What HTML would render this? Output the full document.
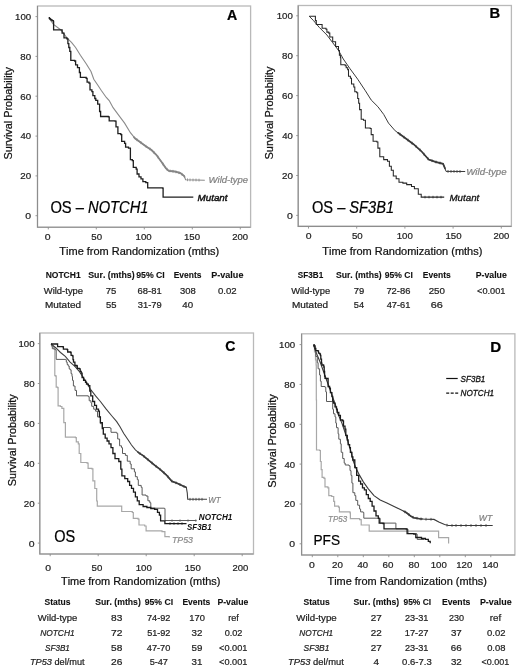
<!DOCTYPE html><html><head><meta charset="utf-8"><style>html,body{margin:0;padding:0;background:#fff;overflow:hidden;width:520px;height:670px;}svg{display:block;filter:grayscale(100%);}text{font-family:"Liberation Sans",sans-serif;font-kerning:none;}</style></head><body>
<svg width="520" height="670" viewBox="0 0 520 670">
<rect width="520" height="670" fill="#fff"/>
<rect x="37.5" y="6" width="213.1" height="221.2" fill="none" stroke="#b9b9b9" stroke-width="1.3"/>
<path d="M37.5,6V227.2H250.6" fill="none" stroke="#8d8d8d" stroke-width="1.1"/>
<path d="M35.5,215.7H37.5M35.5,175.9H37.5M35.5,136.1H37.5M35.5,96.2H37.5M35.5,56.4H37.5M35.5,16.6H37.5M48.3,227.2V229.4M96.3,227.2V229.4M144.3,227.2V229.4M192.3,227.2V229.4M240.3,227.2V229.4" stroke="#8d8d8d" stroke-width="0.9" fill="none"/>
<text x="25.39" y="219.10" font-size="9.6" fill="#222" textLength="5.82" lengthAdjust="spacingAndGlyphs" stroke="#222" stroke-width="0.22">0</text>
<text x="20.31" y="179.28" font-size="9.6" fill="#222" textLength="10.87" lengthAdjust="spacingAndGlyphs" stroke="#222" stroke-width="0.22">20</text>
<text x="20.58" y="139.46" font-size="9.6" fill="#222" textLength="10.59" lengthAdjust="spacingAndGlyphs" stroke="#222" stroke-width="0.22">40</text>
<text x="20.30" y="99.64" font-size="9.6" fill="#222" textLength="10.88" lengthAdjust="spacingAndGlyphs" stroke="#222" stroke-width="0.22">60</text>
<text x="20.38" y="59.82" font-size="9.6" fill="#222" textLength="10.80" lengthAdjust="spacingAndGlyphs" stroke="#222" stroke-width="0.22">80</text>
<text x="15.06" y="20.00" font-size="9.6" fill="#222" textLength="16.11" lengthAdjust="spacingAndGlyphs" stroke="#222" stroke-width="0.22">100</text>
<text x="227.05" y="19.50" font-size="14" fill="#000" textLength="10.23" lengthAdjust="spacingAndGlyphs" stroke="#000" stroke-width="0.22"><tspan font-weight="bold">A</tspan></text>
<text x="44.79" y="240.20" font-size="9.6" fill="#222" textLength="5.82" lengthAdjust="spacingAndGlyphs" stroke="#222" stroke-width="0.22">0</text>
<text x="91.31" y="240.20" font-size="9.6" fill="#222" textLength="10.77" lengthAdjust="spacingAndGlyphs" stroke="#222" stroke-width="0.22">50</text>
<text x="135.56" y="240.20" font-size="9.6" fill="#222" textLength="16.11" lengthAdjust="spacingAndGlyphs" stroke="#222" stroke-width="0.22">100</text>
<text x="183.96" y="240.20" font-size="9.6" fill="#222" textLength="16.11" lengthAdjust="spacingAndGlyphs" stroke="#222" stroke-width="0.22">150</text>
<text x="232.22" y="240.20" font-size="9.6" fill="#222" textLength="15.85" lengthAdjust="spacingAndGlyphs" stroke="#222" stroke-width="0.22">200</text>
<text x="59.35" y="255.40" font-size="10.4" fill="#111" textLength="159.83" lengthAdjust="spacingAndGlyphs" stroke="#111" stroke-width="0.22">Time from Randomization (mths)</text>
<text transform="rotate(-90)" x="-159.49" y="11.50" font-size="10.2" fill="#111" textLength="92.52" lengthAdjust="spacingAndGlyphs" stroke="#111" stroke-width="0.22">Survival Probability</text>
<text x="50.40" y="212.70" font-size="16.2" fill="#000" textLength="98.14" lengthAdjust="spacingAndGlyphs" stroke="#000" stroke-width="0.22">OS – <tspan font-style="italic">NOTCH1</tspan></text>
<path d="M48.7,17.7L53.5,24.4L61.2,30.2L66.9,37.9L71.7,42.7L75.6,47.5L80.4,55.2L86.2,63.8L91.0,71.5L93.8,79.2L97.7,85.0L101.5,90.8L106.3,97.5L109.2,100.5L113.1,107.7L118.8,115.4L124.6,123.1L130.4,132.7L135.2,138.5L139.0,141.3L145.8,146.2L151.5,150.0L156.3,154.8L161.2,161.5L166.0,168.3L168.8,170.8L174.6,171.5L180.4,173.1L184.2,176.0L185.6,179.8L204.8,180.2" fill="none" stroke="#8a8a8a" stroke-width="1.1" stroke-linejoin="miter"/>
<path d="M134.0,137.1L135.2,138.5L139.0,141.3L145.8,146.2L151.5,150.0L156.3,154.8L161.2,161.5L166.0,168.3L168.8,170.8L174.6,171.5L180.4,173.1L184.2,176.0L184.5,176.8" fill="none" stroke="#858585" stroke-width="1.8" stroke-linejoin="miter" stroke-linecap="round" stroke-linejoin="round"/>
<path d="M137.0,138.4V141.2M141.0,141.3V144.1M146.0,144.9V147.7M150.0,147.6V150.4M154.0,151.1V153.9M158.0,155.7V158.5M163.0,162.7V165.5M167.0,167.8V170.6M170.0,169.5V172.3M173.0,169.9V172.7M176.0,170.5V173.3M179.0,171.3V174.1M182.0,172.9V175.7M187.5,178.4V181.2M190.0,178.5V181.3M193.0,178.6V181.4M196.0,178.6V181.4M199.0,178.7V181.5" fill="none" stroke="#858585" stroke-width="0.8"/>
<path d="M48.7,17.7H49.5V18.6H50.3V19.3H51.2V20.0H52.1V20.7H53.3V21.4H53.6V29.8H60.8V29.8H62.1V33.1H64.0V37.9H66.9V38.8H67.9V43.7H68.8V47.5H69.8V51.3H70.8V60.4H74.6V61.0H75.6V64.8H77.5V67.7H79.4V72.5H80.4V77.3H86.2V78.3H87.1V82.1H89.0V83.1H90.0V89.8H91.9V91.7H92.9V95.6H94.8V98.5H95.8V100.4H97.7V104.2H99.6V111.5H100.6V116.5H108.3V116.9H109.2V120.8H115.0V121.2H116.0V126.9H117.9V133.7H120.8V134.6H121.7V141.3H124.6V143.3H125.6V147.1H128.5V148.1H130.4V159.6H132.3V160.6H133.3V167.3H136.2V169.2H137.1V174.0H139.0V176.9H141.0V178.8H142.9V181.7H145.8V182.7H147.7V187.8H162.6V188.1H163.1V197.1H193.3V197.1" fill="none" stroke="#1e1e1e" stroke-width="1.3" stroke-linejoin="miter"/>
<text x="208.58" y="182.50" font-size="9.4" fill="#808080" textLength="39.57" lengthAdjust="spacingAndGlyphs" stroke="#808080" stroke-width="0.22"><tspan font-style="italic">Wild-type</tspan></text>
<text x="197.60" y="200.90" font-size="9.6" fill="#111" textLength="29.96" lengthAdjust="spacingAndGlyphs" stroke="#111" stroke-width="0.45"><tspan font-style="italic">Mutant</tspan></text>
<rect x="298.2" y="5.5" width="213.2" height="220.9" fill="none" stroke="#b9b9b9" stroke-width="1.3"/>
<path d="M298.2,5.5V226.4H511.4" fill="none" stroke="#8d8d8d" stroke-width="1.1"/>
<path d="M296.2,215.4H298.2M296.2,175.5H298.2M296.2,135.6H298.2M296.2,95.6H298.2M296.2,55.7H298.2M296.2,15.8H298.2M308.5,226.4V228.6M356.7,226.4V228.6M404.9,226.4V228.6M453.1,226.4V228.6M501.3,226.4V228.6" stroke="#8d8d8d" stroke-width="0.9" fill="none"/>
<text x="287.09" y="218.80" font-size="9.6" fill="#222" textLength="5.82" lengthAdjust="spacingAndGlyphs" stroke="#222" stroke-width="0.22">0</text>
<text x="282.01" y="178.88" font-size="9.6" fill="#222" textLength="10.87" lengthAdjust="spacingAndGlyphs" stroke="#222" stroke-width="0.22">20</text>
<text x="282.28" y="138.96" font-size="9.6" fill="#222" textLength="10.59" lengthAdjust="spacingAndGlyphs" stroke="#222" stroke-width="0.22">40</text>
<text x="282.00" y="99.04" font-size="9.6" fill="#222" textLength="10.88" lengthAdjust="spacingAndGlyphs" stroke="#222" stroke-width="0.22">60</text>
<text x="282.08" y="59.12" font-size="9.6" fill="#222" textLength="10.80" lengthAdjust="spacingAndGlyphs" stroke="#222" stroke-width="0.22">80</text>
<text x="276.76" y="19.20" font-size="9.6" fill="#222" textLength="16.11" lengthAdjust="spacingAndGlyphs" stroke="#222" stroke-width="0.22">100</text>
<text x="489.61" y="18.40" font-size="14" fill="#000" textLength="10.66" lengthAdjust="spacingAndGlyphs" stroke="#000" stroke-width="0.22"><tspan font-weight="bold">B</tspan></text>
<text x="305.69" y="238.70" font-size="9.6" fill="#222" textLength="5.82" lengthAdjust="spacingAndGlyphs" stroke="#222" stroke-width="0.22">0</text>
<text x="351.91" y="238.70" font-size="9.6" fill="#222" textLength="10.77" lengthAdjust="spacingAndGlyphs" stroke="#222" stroke-width="0.22">50</text>
<text x="396.76" y="238.70" font-size="9.6" fill="#222" textLength="16.11" lengthAdjust="spacingAndGlyphs" stroke="#222" stroke-width="0.22">100</text>
<text x="445.46" y="238.70" font-size="9.6" fill="#222" textLength="16.11" lengthAdjust="spacingAndGlyphs" stroke="#222" stroke-width="0.22">150</text>
<text x="493.52" y="238.70" font-size="9.6" fill="#222" textLength="15.85" lengthAdjust="spacingAndGlyphs" stroke="#222" stroke-width="0.22">200</text>
<text x="322.25" y="255.00" font-size="10.4" fill="#111" textLength="160.13" lengthAdjust="spacingAndGlyphs" stroke="#111" stroke-width="0.22">Time from Randomization (mths)</text>
<text transform="rotate(-90)" x="-159.50" y="272.60" font-size="10.2" fill="#111" textLength="93.02" lengthAdjust="spacingAndGlyphs" stroke="#111" stroke-width="0.22">Survival Probability</text>
<text x="312.01" y="213.20" font-size="16.2" fill="#000" textLength="82.03" lengthAdjust="spacingAndGlyphs" stroke="#000" stroke-width="0.22">OS – <tspan font-style="italic">SF3B1</tspan></text>
<path d="M309.2,16.2L313.5,20.6L319.2,27.3L326.9,35.0L332.7,42.7L338.5,50.4L343.3,59.0L350.0,68.7L357.7,79.2L365.4,90.8L371.2,100.0L377.9,106.7L383.7,114.4L388.5,123.1L395.2,130.8L400.0,134.2L405.8,138.5L413.5,144.2L421.2,151.0L428.7,159.6L435.4,161.9L443.1,163.8L445.0,168.3L446.0,171.4L465.2,171.5" fill="none" stroke="#3a3a3a" stroke-width="1.0" stroke-linejoin="miter"/>
<path d="M398.0,132.8L400.0,134.2L405.8,138.5L413.5,144.2L421.2,151.0L428.7,159.6L435.4,161.9L443.1,163.8L445.0,168.3" fill="none" stroke="#3a3a3a" stroke-width="1.7" stroke-linejoin="miter" stroke-linecap="round" stroke-linejoin="round"/>
<path d="M400.0,132.8V135.6M404.0,135.8V138.6M408.0,138.7V141.5M412.0,141.7V144.5M416.0,145.0V147.8M420.0,148.5V151.3M424.0,152.8V155.6M428.0,157.4V160.2M432.0,159.3V162.1M436.0,160.6V163.4M440.0,161.6V164.4M448.0,170.0V172.8M451.0,170.0V172.8M454.0,170.0V172.8M457.0,170.1V172.9M460.0,170.1V172.9" fill="none" stroke="#3a3a3a" stroke-width="0.8"/>
<path d="M309.2,16.2H313.8V16.2H315.4V20.6H316.3V24.4H321.2V24.4H322.1V28.3H326.0V29.2H326.9V32.1H328.8V33.1H329.8V36.9H332.7V41.7H335.6V46.5H338.5V50.4H339.4V55.2H340.4V57.7H340.8V64.8H345.2V65.8H346.2V67.7H347.7V69.6H348.5V76.3H350.4V78.3H351.5V84.0H353.8V86.9H354.8V91.7H356.7V92.7H357.7V98.5H358.7V103.3H359.6V109.6H361.2V119.2H363.5V120.2H365.4V127.9H370.2V128.5H371.2V134.6H373.1V141.3H376.9V141.9H377.9V148.1H379.8V156.7H383.7V159.6H387.5V161.2H389.4V166.3H391.3V170.2H393.3V176.0H396.2V178.8H399.0V182.3H402.9V183.1H406.7V184.6H411.5V186.5H414.4V188.8H418.3V194.2H421.2V197.1H444.2V197.1" fill="none" stroke="#262626" stroke-width="1.05" stroke-linejoin="miter"/>
<path d="M425.0,195.8V198.4M429.0,195.8V198.4M433.0,195.8V198.4M437.0,195.8V198.4M441.0,195.8V198.4" fill="none" stroke="#1e1e1e" stroke-width="0.7"/>
<text x="466.26" y="174.60" font-size="9.4" fill="#808080" textLength="40.29" lengthAdjust="spacingAndGlyphs" stroke="#808080" stroke-width="0.22"><tspan font-style="italic">Wild-type</tspan></text>
<text x="449.50" y="200.60" font-size="9.6" fill="#111" textLength="29.76" lengthAdjust="spacingAndGlyphs" stroke="#111" stroke-width="0.3"><tspan font-style="italic">Mutant</tspan></text>
<text x="45.63" y="278.30" font-size="8.8" fill="#111" textLength="35.01" lengthAdjust="spacingAndGlyphs" stroke="#111" stroke-width="0.1"><tspan font-weight="bold">NOTCH1</tspan></text>
<text x="88.25" y="278.30" font-size="8.8" fill="#111" textLength="46.39" lengthAdjust="spacingAndGlyphs" stroke="#111" stroke-width="0.1"><tspan font-weight="bold">Sur. (mths)</tspan></text>
<text x="136.20" y="278.30" font-size="8.8" fill="#111" textLength="28.59" lengthAdjust="spacingAndGlyphs" stroke="#111" stroke-width="0.1"><tspan font-weight="bold">95% CI</tspan></text>
<text x="173.73" y="278.30" font-size="8.8" fill="#111" textLength="27.71" lengthAdjust="spacingAndGlyphs" stroke="#111" stroke-width="0.1"><tspan font-weight="bold">Events</tspan></text>
<text x="211.30" y="278.30" font-size="8.8" fill="#111" textLength="32.11" lengthAdjust="spacingAndGlyphs" stroke="#111" stroke-width="0.1"><tspan font-weight="bold">P-value</tspan></text>
<text x="43.76" y="293.60" font-size="9.4" fill="#222" textLength="39.36" lengthAdjust="spacingAndGlyphs" stroke="#222" stroke-width="0.22">Wild-type</text>
<text x="105.81" y="293.60" font-size="9.4" fill="#222" textLength="10.59" lengthAdjust="spacingAndGlyphs" stroke="#222" stroke-width="0.22">75</text>
<text x="137.62" y="293.60" font-size="9.4" fill="#222" textLength="24.04" lengthAdjust="spacingAndGlyphs" stroke="#222" stroke-width="0.22">68-81</text>
<text x="179.94" y="293.60" font-size="9.4" fill="#222" textLength="15.77" lengthAdjust="spacingAndGlyphs" stroke="#222" stroke-width="0.22">308</text>
<text x="218.03" y="293.60" font-size="9.4" fill="#222" textLength="18.66" lengthAdjust="spacingAndGlyphs" stroke="#222" stroke-width="0.22">0.02</text>
<text x="44.98" y="308.30" font-size="9.4" fill="#222" textLength="36.06" lengthAdjust="spacingAndGlyphs" stroke="#222" stroke-width="0.22">Mutated</text>
<text x="105.92" y="308.30" font-size="9.4" fill="#222" textLength="10.47" lengthAdjust="spacingAndGlyphs" stroke="#222" stroke-width="0.22">55</text>
<text x="137.74" y="308.30" font-size="9.4" fill="#222" textLength="23.90" lengthAdjust="spacingAndGlyphs" stroke="#222" stroke-width="0.22">31-79</text>
<text x="182.38" y="308.30" font-size="9.4" fill="#222" textLength="10.80" lengthAdjust="spacingAndGlyphs" stroke="#222" stroke-width="0.22">40</text>
<text x="297.87" y="278.30" font-size="8.8" fill="#111" textLength="25.36" lengthAdjust="spacingAndGlyphs" stroke="#111" stroke-width="0.1"><tspan font-weight="bold">SF3B1</tspan></text>
<text x="335.95" y="278.30" font-size="8.8" fill="#111" textLength="45.68" lengthAdjust="spacingAndGlyphs" stroke="#111" stroke-width="0.1"><tspan font-weight="bold">Sur. (mths)</tspan></text>
<text x="384.80" y="278.30" font-size="8.8" fill="#111" textLength="28.07" lengthAdjust="spacingAndGlyphs" stroke="#111" stroke-width="0.1"><tspan font-weight="bold">95% CI</tspan></text>
<text x="422.83" y="278.30" font-size="8.8" fill="#111" textLength="27.92" lengthAdjust="spacingAndGlyphs" stroke="#111" stroke-width="0.1"><tspan font-weight="bold">Events</tspan></text>
<text x="475.72" y="278.30" font-size="8.8" fill="#111" textLength="31.08" lengthAdjust="spacingAndGlyphs" stroke="#111" stroke-width="0.1"><tspan font-weight="bold">P-value</tspan></text>
<text x="291.16" y="293.60" font-size="9.4" fill="#222" textLength="38.96" lengthAdjust="spacingAndGlyphs" stroke="#222" stroke-width="0.22">Wild-type</text>
<text x="353.71" y="293.60" font-size="9.4" fill="#222" textLength="10.53" lengthAdjust="spacingAndGlyphs" stroke="#222" stroke-width="0.22">79</text>
<text x="386.42" y="293.60" font-size="9.4" fill="#222" textLength="23.99" lengthAdjust="spacingAndGlyphs" stroke="#222" stroke-width="0.22">72-86</text>
<text x="428.71" y="293.60" font-size="9.4" fill="#222" textLength="16.27" lengthAdjust="spacingAndGlyphs" stroke="#222" stroke-width="0.22">250</text>
<text x="477.05" y="293.60" font-size="9.4" fill="#222" textLength="28.40" lengthAdjust="spacingAndGlyphs" stroke="#222" stroke-width="0.22">&lt;0.001</text>
<text x="291.98" y="308.30" font-size="9.4" fill="#222" textLength="36.06" lengthAdjust="spacingAndGlyphs" stroke="#222" stroke-width="0.22">Mutated</text>
<text x="353.83" y="308.30" font-size="9.4" fill="#222" textLength="10.24" lengthAdjust="spacingAndGlyphs" stroke="#222" stroke-width="0.22">54</text>
<text x="386.69" y="308.30" font-size="9.4" fill="#222" textLength="23.77" lengthAdjust="spacingAndGlyphs" stroke="#222" stroke-width="0.22">47-61</text>
<text x="430.65" y="308.30" font-size="9.4" fill="#222" textLength="12.13" lengthAdjust="spacingAndGlyphs" stroke="#222" stroke-width="0.22">66</text>
<rect x="39.8" y="333" width="213.7" height="221" fill="none" stroke="#b9b9b9" stroke-width="1.3"/>
<path d="M39.8,333V554H253.5" fill="none" stroke="#8d8d8d" stroke-width="1.1"/>
<path d="M37.8,543.1H39.8M37.8,503.2H39.8M37.8,463.3H39.8M37.8,423.4H39.8M37.8,383.5H39.8M37.8,343.6H39.8M50.2,554V556.2M98.2,554V556.2M146.2,554V556.2M194.2,554V556.2M242.2,554V556.2" stroke="#8d8d8d" stroke-width="0.9" fill="none"/>
<text x="28.79" y="546.50" font-size="9.6" fill="#222" textLength="5.82" lengthAdjust="spacingAndGlyphs" stroke="#222" stroke-width="0.22">0</text>
<text x="23.71" y="506.60" font-size="9.6" fill="#222" textLength="10.87" lengthAdjust="spacingAndGlyphs" stroke="#222" stroke-width="0.22">20</text>
<text x="23.98" y="466.70" font-size="9.6" fill="#222" textLength="10.59" lengthAdjust="spacingAndGlyphs" stroke="#222" stroke-width="0.22">40</text>
<text x="23.70" y="426.80" font-size="9.6" fill="#222" textLength="10.88" lengthAdjust="spacingAndGlyphs" stroke="#222" stroke-width="0.22">60</text>
<text x="23.78" y="386.90" font-size="9.6" fill="#222" textLength="10.80" lengthAdjust="spacingAndGlyphs" stroke="#222" stroke-width="0.22">80</text>
<text x="18.46" y="347.00" font-size="9.6" fill="#222" textLength="16.11" lengthAdjust="spacingAndGlyphs" stroke="#222" stroke-width="0.22">100</text>
<text x="225.22" y="350.60" font-size="14" fill="#000" textLength="10.16" lengthAdjust="spacingAndGlyphs" stroke="#000" stroke-width="0.22"><tspan font-weight="bold">C</tspan></text>
<text x="45.39" y="570.60" font-size="9.6" fill="#222" textLength="5.82" lengthAdjust="spacingAndGlyphs" stroke="#222" stroke-width="0.22">0</text>
<text x="91.51" y="570.60" font-size="9.6" fill="#222" textLength="10.77" lengthAdjust="spacingAndGlyphs" stroke="#222" stroke-width="0.22">50</text>
<text x="135.66" y="570.60" font-size="9.6" fill="#222" textLength="16.11" lengthAdjust="spacingAndGlyphs" stroke="#222" stroke-width="0.22">100</text>
<text x="184.66" y="570.60" font-size="9.6" fill="#222" textLength="16.11" lengthAdjust="spacingAndGlyphs" stroke="#222" stroke-width="0.22">150</text>
<text x="232.42" y="570.60" font-size="9.6" fill="#222" textLength="15.85" lengthAdjust="spacingAndGlyphs" stroke="#222" stroke-width="0.22">200</text>
<text x="60.95" y="585.30" font-size="10.4" fill="#111" textLength="159.53" lengthAdjust="spacingAndGlyphs" stroke="#111" stroke-width="0.22">Time from Randomization (mths)</text>
<text transform="rotate(-90)" x="-486.29" y="16.00" font-size="10.2" fill="#111" textLength="92.01" lengthAdjust="spacingAndGlyphs" stroke="#111" stroke-width="0.22">Survival Probability</text>
<text x="54.31" y="541.90" font-size="16" fill="#000" textLength="20.95" lengthAdjust="spacingAndGlyphs" stroke="#000" stroke-width="0.22">OS</text>
<path d="M51.0,344.0H51.6V344.9H52.3V345.9H53.0V347.0H53.7V348.0H54.4V349.0H54.8V375.6H55.7V376.1H56.2V387.1H57.6V387.6H58.1V405.8H60.4V406.5H61.9V408.3H63.8V422.7H65.4V437.1H75.4V437.7H76.3V441.9H78.3V443.8H79.2V453.5H80.8V462.5H87.1V463.1H88.1V468.3H91.9V468.8H92.9V480.8H94.8V488.5H96.7V501.0H97.3V506.2H120.8V506.2H121.7V511.5H132.3V512.5H133.3V518.3H138.1V519.2H139.0V525.0H144.7V526.0H146.1V530.9H162.0V531.7H164.9V536.6H169.2V537.5" fill="none" stroke="#a8a8a8" stroke-width="1.2" stroke-linejoin="miter"/>
<path d="M51.0,344.0L55.7,347.7L60.5,352.5L65.3,356.3L70.1,362.1L74.9,366.4L78.8,370.8L82.6,376.5L86.5,382.3L90.3,389.0L95.6,395.8L100.4,401.5L106.2,409.2L111.9,416.0L116.7,421.7L120.0,426.7L123.8,433.5L127.7,439.2L131.5,445.0L135.4,449.8L139.2,453.1L143.1,455.6L148.8,460.4L154.6,465.2L160.4,469.6L166.2,474.8L171.9,481.2L177.7,483.5L183.5,486.3L186.3,487.3L187.3,493.1L187.7,499.3L207.0,499.3" fill="none" stroke="#404040" stroke-width="1.1" stroke-linejoin="miter"/>
<path d="M138.0,452.1L139.2,453.1L143.1,455.6L148.8,460.4L154.6,465.2L160.4,469.6L166.2,474.8L171.9,481.2L177.7,483.5L183.5,486.3L186.0,487.2" fill="none" stroke="#3c3c3c" stroke-width="1.7" stroke-linejoin="miter" stroke-linecap="round" stroke-linejoin="round"/>
<path d="M140.0,452.2V455.0M144.0,455.0V457.8M148.0,458.3V461.1M152.0,461.6V464.4M156.0,464.9V467.7M160.0,467.9V470.7M164.0,471.4V474.2M168.0,475.4V478.2M172.0,479.8V482.6M176.0,481.4V484.2M180.0,483.2V486.0M184.0,485.1V487.9M190.0,497.9V500.7M193.0,497.9V500.7M196.0,497.9V500.7M199.0,497.9V500.7M202.0,497.9V500.7" fill="none" stroke="#3c3c3c" stroke-width="0.8"/>
<path d="M51.0,344.0H51.4V345.2H51.8V346.3H52.3V348.7H53.8V349.1H55.7V350.1H56.2V359.4H65.8V359.7H66.3V362.1H67.2V364.5H68.2V366.0H69.2V368.8H70.1V369.8H71.1V373.7H72.0V376.5H72.5V380.4H73.4V386.0H75.0V390.4H76.5V395.8H88.3V396.6H89.2V400.8H91.0V403.0H91.7V406.3H93.7V409.2H95.6V411.2H97.5V416.9H100.4V423.7H102.3V427.5H110.0V428.1H111.0V432.3H116.7V433.3H117.7V439.0H119.6V445.8H121.5V447.7H122.5V453.5H125.4V455.4H127.3V461.2H130.2V464.0H131.2V468.8H134.4V471.9H135.4V476.7H137.3V479.6H138.3V485.4H141.2V487.3H142.1V495.0H146.0V496.0H147.9V500.8H149.8V502.7H150.8V508.2H164.5V508.5H165.0V520.5H196.5V520.6" fill="none" stroke="#5a5a5a" stroke-width="1.0" stroke-linejoin="miter"/>
<path d="M51.0,344.0H57.1V344.0H57.6V346.7H62.9V346.9H63.4V349.1H67.2V349.6H67.7V352.0H70.6V352.5H71.1V355.4H72.5V355.9H73.0V359.7H73.5V362.1H74.9V365.5H76.8V366.0H77.3V368.4H79.3V368.8H80.2V371.3H81.2V373.2H82.1V377.5H83.6V380.4H85.5V382.3H86.5V384.2H88.4V385.7H89.8V391.0H90.8V395.8H92.7V401.5H94.6V405.4H96.5V409.2H98.5V411.2H99.4V416.9H100.4V422.7H102.3V428.5H103.3V434.2H105.2V438.1H107.1V441.0H109.0V443.8H111.0V447.7H112.9V453.5H115.0V458.7H118.8V461.5H120.8V469.2H121.9V475.8H124.8V478.7H127.7V481.5H129.6V485.4H131.5V488.3H133.5V492.1H135.4V496.9H137.3V500.8H139.2V504.6H143.1V506.5H146.9V507.5H150.8V508.5H154.6V509.4H157.5V512.3H159.4V515.2H160.6V520.8H164.9V523.6H186.5V523.6" fill="none" stroke="#1a1a1a" stroke-width="1.3" stroke-linejoin="miter"/>
<path d="M170.0,522.3V524.9M174.0,522.3V524.9M178.0,522.3V524.9M182.0,522.3V524.9" fill="none" stroke="#1a1a1a" stroke-width="0.7"/>
<path d="M172.0,519.3V521.9M180.0,519.3V521.9M188.0,519.3V521.9M195.8,519.3V521.9" fill="none" stroke="#5a5a5a" stroke-width="0.7"/>
<text x="208.32" y="502.60" font-size="9.6" fill="#808080" textLength="12.32" lengthAdjust="spacingAndGlyphs" stroke="#808080" stroke-width="0.22"><tspan font-style="italic">WT</tspan></text>
<text x="198.86" y="520.20" font-size="9.2" fill="#111" textLength="33.48" lengthAdjust="spacingAndGlyphs"><tspan font-weight="bold" font-style="italic">NOTCH1</tspan></text>
<text x="187.10" y="529.60" font-size="9.2" fill="#111" textLength="24.52" lengthAdjust="spacingAndGlyphs"><tspan font-weight="bold" font-style="italic">SF3B1</tspan></text>
<text x="171.91" y="543.00" font-size="9.4" fill="#8a8a8a" textLength="21.07" lengthAdjust="spacingAndGlyphs" stroke="#8a8a8a" stroke-width="0.22"><tspan font-style="italic">TP53</tspan></text>
<rect x="301.6" y="333.8" width="213.29999999999995" height="221.2" fill="none" stroke="#b9b9b9" stroke-width="1.3"/>
<path d="M301.6,333.8V555.0H514.9" fill="none" stroke="#8d8d8d" stroke-width="1.1"/>
<path d="M299.6,543.8H301.6M299.6,504.0H301.6M299.6,464.1H301.6M299.6,424.3H301.6M299.6,384.4H301.6M299.6,344.6H301.6M312.3,555.0V557.2M337.8,555.0V557.2M363.3,555.0V557.2M388.8,555.0V557.2M414.3,555.0V557.2M439.8,555.0V557.2M465.3,555.0V557.2M490.8,555.0V557.2" stroke="#8d8d8d" stroke-width="0.9" fill="none"/>
<text x="289.39" y="547.20" font-size="9.6" fill="#222" textLength="5.82" lengthAdjust="spacingAndGlyphs" stroke="#222" stroke-width="0.22">0</text>
<text x="284.31" y="507.36" font-size="9.6" fill="#222" textLength="10.87" lengthAdjust="spacingAndGlyphs" stroke="#222" stroke-width="0.22">20</text>
<text x="284.58" y="467.52" font-size="9.6" fill="#222" textLength="10.59" lengthAdjust="spacingAndGlyphs" stroke="#222" stroke-width="0.22">40</text>
<text x="284.30" y="427.68" font-size="9.6" fill="#222" textLength="10.88" lengthAdjust="spacingAndGlyphs" stroke="#222" stroke-width="0.22">60</text>
<text x="284.38" y="387.84" font-size="9.6" fill="#222" textLength="10.80" lengthAdjust="spacingAndGlyphs" stroke="#222" stroke-width="0.22">80</text>
<text x="279.06" y="348.00" font-size="9.6" fill="#222" textLength="16.11" lengthAdjust="spacingAndGlyphs" stroke="#222" stroke-width="0.22">100</text>
<text x="490.19" y="351.50" font-size="14" fill="#000" textLength="10.95" lengthAdjust="spacingAndGlyphs" stroke="#000" stroke-width="0.22"><tspan font-weight="bold">D</tspan></text>
<text x="309.09" y="568.20" font-size="9.6" fill="#222" textLength="5.82" lengthAdjust="spacingAndGlyphs" stroke="#222" stroke-width="0.22">0</text>
<text x="332.01" y="568.20" font-size="9.6" fill="#222" textLength="10.87" lengthAdjust="spacingAndGlyphs" stroke="#222" stroke-width="0.22">20</text>
<text x="357.38" y="568.20" font-size="9.6" fill="#222" textLength="10.59" lengthAdjust="spacingAndGlyphs" stroke="#222" stroke-width="0.22">40</text>
<text x="382.50" y="568.20" font-size="9.6" fill="#222" textLength="10.88" lengthAdjust="spacingAndGlyphs" stroke="#222" stroke-width="0.22">60</text>
<text x="408.58" y="568.20" font-size="9.6" fill="#222" textLength="10.80" lengthAdjust="spacingAndGlyphs" stroke="#222" stroke-width="0.22">80</text>
<text x="430.76" y="568.20" font-size="9.6" fill="#222" textLength="16.11" lengthAdjust="spacingAndGlyphs" stroke="#222" stroke-width="0.22">100</text>
<text x="456.16" y="568.20" font-size="9.6" fill="#222" textLength="16.11" lengthAdjust="spacingAndGlyphs" stroke="#222" stroke-width="0.22">120</text>
<text x="482.16" y="568.20" font-size="9.6" fill="#222" textLength="16.11" lengthAdjust="spacingAndGlyphs" stroke="#222" stroke-width="0.22">140</text>
<text x="327.45" y="585.40" font-size="10.4" fill="#111" textLength="159.42" lengthAdjust="spacingAndGlyphs" stroke="#111" stroke-width="0.22">Time from Randomization (mths)</text>
<text transform="rotate(-90)" x="-487.70" y="276.00" font-size="10.2" fill="#111" textLength="93.42" lengthAdjust="spacingAndGlyphs" stroke="#111" stroke-width="0.22">Survival Probability</text>
<text x="313.48" y="544.50" font-size="15.3" fill="#000" textLength="26.55" lengthAdjust="spacingAndGlyphs" stroke="#000" stroke-width="0.22">PFS</text>
<path d="M313.5,345.0H314.5V352.0H315.5V360.0H316.1V365.0H316.3V400.0H316.5V450.0H319.6V450.5H320.4V461.5H321.2V469.6H322.1V477.3H324.0V478.3H325.0V486.9H327.9V487.9H328.8V495.6H331.7V496.5H333.7V501.3H334.6V506.2H338.5V507.1H339.4V511.9H350.0V512.9H350.4V518.7H359.6V519.6H361.2V525.0H368.5V525.0H369.2V531.2H438.2V531.2H438.6V537.6H448.6V537.6H448.6V543.4" fill="none" stroke="#a8a8a8" stroke-width="1.2" stroke-linejoin="miter"/>
<path d="M313.5,345.0L316.5,353.5L320.4,362.7L324.2,373.5L328.1,384.2L331.9,395.0L335.8,405.8L337.3,412.3L341.9,423.1L346.5,436.9L351.2,452.3L352.9,460.0L355.8,467.7L359.6,475.4L363.5,482.1L368.3,488.8L374.0,495.6L380.2,500.0L386.9,502.9L394.6,506.7L400.4,509.6L406.2,512.5L411.0,516.3L413.8,517.7L419.6,518.8L425.4,519.2L434.0,519.4L438.8,522.1L444.6,524.6L448.5,525.5L492.7,525.5" fill="none" stroke="#3a3a3a" stroke-width="1.1" stroke-linejoin="miter"/>
<path d="M404.0,511.4L406.2,512.5L411.0,516.3L413.8,517.7L419.6,518.8L422.0,519.0" fill="none" stroke="#3a3a3a" stroke-width="1.6" stroke-linejoin="miter" stroke-linecap="round" stroke-linejoin="round"/>
<path d="M405.0,510.5V513.3M409.0,513.3V516.1M413.0,515.9V518.7M417.0,516.9V519.7M421.0,517.5V520.3M426.0,517.8V520.6M431.0,517.9V520.7M447.0,523.8V526.6M452.0,524.1V526.9M456.0,524.1V526.9M461.0,524.1V526.9M466.0,524.1V526.9M471.0,524.1V526.9M476.0,524.1V526.9M481.0,524.1V526.9M486.0,524.1V526.9" fill="none" stroke="#3a3a3a" stroke-width="0.8"/>
<path d="M313.5,345.0H315.0V350.4H315.8V356.5H317.3V362.7H318.1V368.8H319.6V375.0H320.4V381.2H321.2V386.5H325.0V387.3H325.8V391.9H326.5V401.5H331.9V401.8H332.7V409.2H333.5V413.8H335.0V416.9H335.8V423.1H336.5V427.7H338.1V433.8H338.8V439.2H340.4V443.8H341.2V452.3H342.7V458.5H344.2V463.1H345.2V465.0H349.0V465.8H350.0V470.6H351.0V475.4H351.9V483.1H352.9V492.7H354.8V495.6H355.8V500.4H357.7V505.2H359.6V509.0H360.6V511.9H363.2V512.5H363.8V518.2H379.4V518.3H380.2V523.1H395.6V523.1H395.9V528.8H407.0V529.2H408.0V533.6H416.5V534.2H417.2V539.4H424.0V539.6" fill="none" stroke="#5a5a5a" stroke-width="1.0" stroke-linejoin="miter"/>
<path d="M313.3,345.0H314.2V346.2H315.0V348.5H315.8V350.6H317.7V350.8H318.5V353.1H319.6V353.8H320.4V355.4H320.8V359.2H321.5V363.1H321.9V365.0H323.5V365.4H323.8V367.0H324.2V371.5H324.6V376.2H325.0V378.3H326.9V378.5H328.1V386.5H329.6V388.1H330.4V392.7H331.9V396.5H332.7V401.2H333.5V403.1H335.0V406.9H336.5V409.2H337.3V412.3H338.8V415.4H340.4V420.0H342.7V420.8H343.5V426.2H345.0V429.2H345.8V435.4H347.3V440.0H348.1V444.6H349.6V447.7H350.4V452.3H351.9V456.9H352.9V460.0H354.8V467.7H356.7V475.4H358.7V481.2H360.6V484.0H362.5V487.9H364.4V489.8H366.3V494.6H368.3V498.5H370.2V501.3H372.1V506.2H374.0V511.0H376.0V515.8H378.3V518.3H379.2V523.1H383.1V523.5H384.0V528.8H406.2V529.2H407.1V533.7H413.8V534.2H415.8V537.5H419.6V537.5H421.5V538.5H425.4V539.4H428.3V541.3H430.2V543.3" fill="none" stroke="#1a1a1a" stroke-width="1.3" stroke-linejoin="miter"/>
<text x="478.75" y="520.80" font-size="9.6" fill="#808080" textLength="13.44" lengthAdjust="spacingAndGlyphs" stroke="#808080" stroke-width="0.22"><tspan font-style="italic">WT</tspan></text>
<text x="328.08" y="522.00" font-size="9.4" fill="#8a8a8a" textLength="19.09" lengthAdjust="spacingAndGlyphs" stroke="#8a8a8a" stroke-width="0.22"><tspan font-style="italic">TP53</tspan></text>
<path d="M446.2,378.5H457.7" stroke="#111" stroke-width="1.2"/>
<path d="M446.2,393.2H458.5" stroke="#111" stroke-width="1.2" stroke-dasharray="3,1.5"/>
<text x="460.57" y="381.70" font-size="9.4" fill="#111" textLength="24.71" lengthAdjust="spacingAndGlyphs" stroke="#111" stroke-width="0.3"><tspan font-style="italic">SF3B1</tspan></text>
<text x="460.55" y="396.40" font-size="9.4" fill="#111" textLength="33.54" lengthAdjust="spacingAndGlyphs" stroke="#111" stroke-width="0.3"><tspan font-style="italic">NOTCH1</tspan></text>
<text x="44.55" y="605.40" font-size="9.0" fill="#111" textLength="25.99" lengthAdjust="spacingAndGlyphs" stroke="#111" stroke-width="0.1"><tspan font-weight="bold">Status</tspan></text>
<text x="95.15" y="605.40" font-size="9.0" fill="#111" textLength="45.68" lengthAdjust="spacingAndGlyphs" stroke="#111" stroke-width="0.1"><tspan font-weight="bold">Sur. (mths)</tspan></text>
<text x="144.70" y="605.40" font-size="9.0" fill="#111" textLength="28.38" lengthAdjust="spacingAndGlyphs" stroke="#111" stroke-width="0.1"><tspan font-weight="bold">95% CI</tspan></text>
<text x="182.43" y="605.40" font-size="9.0" fill="#111" textLength="27.92" lengthAdjust="spacingAndGlyphs" stroke="#111" stroke-width="0.1"><tspan font-weight="bold">Events</tspan></text>
<text x="217.42" y="605.40" font-size="9.0" fill="#111" textLength="30.88" lengthAdjust="spacingAndGlyphs" stroke="#111" stroke-width="0.1"><tspan font-weight="bold">P-value</tspan></text>
<text x="37.86" y="620.80" font-size="9.4" fill="#222" textLength="39.46" lengthAdjust="spacingAndGlyphs" stroke="#222" stroke-width="0.22">Wild-type</text>
<text x="111.06" y="620.80" font-size="9.4" fill="#222" textLength="11.29" lengthAdjust="spacingAndGlyphs" stroke="#222" stroke-width="0.22">83</text>
<text x="147.03" y="620.80" font-size="9.4" fill="#222" textLength="23.43" lengthAdjust="spacingAndGlyphs" stroke="#222" stroke-width="0.22">74-92</text>
<text x="189.29" y="620.80" font-size="9.4" fill="#222" textLength="15.58" lengthAdjust="spacingAndGlyphs" stroke="#222" stroke-width="0.22">170</text>
<text x="228.20" y="620.80" font-size="9.4" fill="#222" textLength="10.59" lengthAdjust="spacingAndGlyphs" stroke="#222" stroke-width="0.22">ref</text>
<text x="40.14" y="635.50" font-size="9.4" fill="#222" textLength="34.57" lengthAdjust="spacingAndGlyphs" stroke="#222" stroke-width="0.22"><tspan font-style="italic">NOTCH1</tspan></text>
<text x="110.97" y="635.50" font-size="9.4" fill="#222" textLength="11.45" lengthAdjust="spacingAndGlyphs" stroke="#222" stroke-width="0.22">72</text>
<text x="147.13" y="635.50" font-size="9.4" fill="#222" textLength="23.32" lengthAdjust="spacingAndGlyphs" stroke="#222" stroke-width="0.22">51-92</text>
<text x="191.63" y="635.50" font-size="9.4" fill="#222" textLength="10.86" lengthAdjust="spacingAndGlyphs" stroke="#222" stroke-width="0.22">32</text>
<text x="224.64" y="635.50" font-size="9.4" fill="#222" textLength="17.82" lengthAdjust="spacingAndGlyphs" stroke="#222" stroke-width="0.22">0.02</text>
<text x="44.97" y="650.50" font-size="9.4" fill="#222" textLength="24.92" lengthAdjust="spacingAndGlyphs" stroke="#222" stroke-width="0.22"><tspan font-style="italic">SF3B1</tspan></text>
<text x="111.10" y="650.50" font-size="9.4" fill="#222" textLength="11.24" lengthAdjust="spacingAndGlyphs" stroke="#222" stroke-width="0.22">58</text>
<text x="146.79" y="650.50" font-size="9.4" fill="#222" textLength="23.57" lengthAdjust="spacingAndGlyphs" stroke="#222" stroke-width="0.22">47-70</text>
<text x="191.61" y="650.50" font-size="9.4" fill="#222" textLength="10.85" lengthAdjust="spacingAndGlyphs" stroke="#222" stroke-width="0.22">59</text>
<text x="219.05" y="650.50" font-size="9.4" fill="#222" textLength="28.40" lengthAdjust="spacingAndGlyphs" stroke="#222" stroke-width="0.22">&lt;0.001</text>
<text x="29.97" y="665.30" font-size="9.4" fill="#222" textLength="54.69" lengthAdjust="spacingAndGlyphs" stroke="#222" stroke-width="0.22"><tspan font-style="italic">TP53</tspan> del/mut</text>
<text x="110.99" y="665.30" font-size="9.4" fill="#222" textLength="11.36" lengthAdjust="spacingAndGlyphs" stroke="#222" stroke-width="0.22">26</text>
<text x="149.63" y="665.30" font-size="9.4" fill="#222" textLength="18.33" lengthAdjust="spacingAndGlyphs" stroke="#222" stroke-width="0.22">5-47</text>
<text x="191.63" y="665.30" font-size="9.4" fill="#222" textLength="10.85" lengthAdjust="spacingAndGlyphs" stroke="#222" stroke-width="0.22">31</text>
<text x="219.05" y="665.30" font-size="9.4" fill="#222" textLength="28.40" lengthAdjust="spacingAndGlyphs" stroke="#222" stroke-width="0.22">&lt;0.001</text>
<text x="303.55" y="605.40" font-size="9.0" fill="#111" textLength="26.10" lengthAdjust="spacingAndGlyphs" stroke="#111" stroke-width="0.1"><tspan font-weight="bold">Status</tspan></text>
<text x="353.55" y="605.40" font-size="9.0" fill="#111" textLength="45.68" lengthAdjust="spacingAndGlyphs" stroke="#111" stroke-width="0.1"><tspan font-weight="bold">Sur. (mths)</tspan></text>
<text x="403.51" y="605.40" font-size="9.0" fill="#111" textLength="27.55" lengthAdjust="spacingAndGlyphs" stroke="#111" stroke-width="0.1"><tspan font-weight="bold">95% CI</tspan></text>
<text x="441.92" y="605.40" font-size="9.0" fill="#111" textLength="28.44" lengthAdjust="spacingAndGlyphs" stroke="#111" stroke-width="0.1"><tspan font-weight="bold">Events</tspan></text>
<text x="479.90" y="605.40" font-size="9.0" fill="#111" textLength="31.70" lengthAdjust="spacingAndGlyphs" stroke="#111" stroke-width="0.1"><tspan font-weight="bold">P-value</tspan></text>
<text x="296.26" y="620.80" font-size="9.4" fill="#222" textLength="40.47" lengthAdjust="spacingAndGlyphs" stroke="#222" stroke-width="0.22">Wild-type</text>
<text x="370.80" y="620.80" font-size="9.4" fill="#222" textLength="10.99" lengthAdjust="spacingAndGlyphs" stroke="#222" stroke-width="0.22">27</text>
<text x="405.04" y="620.80" font-size="9.4" fill="#222" textLength="23.41" lengthAdjust="spacingAndGlyphs" stroke="#222" stroke-width="0.22">23-31</text>
<text x="449.04" y="620.80" font-size="9.4" fill="#222" textLength="15.11" lengthAdjust="spacingAndGlyphs" stroke="#222" stroke-width="0.22">230</text>
<text x="489.85" y="620.80" font-size="9.4" fill="#222" textLength="11.44" lengthAdjust="spacingAndGlyphs" stroke="#222" stroke-width="0.22">ref</text>
<text x="299.25" y="635.50" font-size="9.4" fill="#222" textLength="33.95" lengthAdjust="spacingAndGlyphs" stroke="#222" stroke-width="0.22"><tspan font-style="italic">NOTCH1</tspan></text>
<text x="370.80" y="635.50" font-size="9.4" fill="#222" textLength="10.99" lengthAdjust="spacingAndGlyphs" stroke="#222" stroke-width="0.22">22</text>
<text x="404.80" y="635.50" font-size="9.4" fill="#222" textLength="23.67" lengthAdjust="spacingAndGlyphs" stroke="#222" stroke-width="0.22">17-27</text>
<text x="450.93" y="635.50" font-size="9.4" fill="#222" textLength="10.86" lengthAdjust="spacingAndGlyphs" stroke="#222" stroke-width="0.22">37</text>
<text x="487.13" y="635.50" font-size="9.4" fill="#222" textLength="18.34" lengthAdjust="spacingAndGlyphs" stroke="#222" stroke-width="0.22">0.02</text>
<text x="303.56" y="650.50" font-size="9.4" fill="#222" textLength="25.96" lengthAdjust="spacingAndGlyphs" stroke="#222" stroke-width="0.22"><tspan font-style="italic">SF3B1</tspan></text>
<text x="370.80" y="650.50" font-size="9.4" fill="#222" textLength="10.99" lengthAdjust="spacingAndGlyphs" stroke="#222" stroke-width="0.22">27</text>
<text x="405.04" y="650.50" font-size="9.4" fill="#222" textLength="23.41" lengthAdjust="spacingAndGlyphs" stroke="#222" stroke-width="0.22">23-31</text>
<text x="450.80" y="650.50" font-size="9.4" fill="#222" textLength="10.93" lengthAdjust="spacingAndGlyphs" stroke="#222" stroke-width="0.22">66</text>
<text x="487.13" y="650.50" font-size="9.4" fill="#222" textLength="18.27" lengthAdjust="spacingAndGlyphs" stroke="#222" stroke-width="0.22">0.08</text>
<text x="287.96" y="665.30" font-size="9.4" fill="#222" textLength="55.91" lengthAdjust="spacingAndGlyphs" stroke="#222" stroke-width="0.22"><tspan font-style="italic">TP53</tspan> del/mut</text>
<text x="373.57" y="665.30" font-size="9.4" fill="#222" textLength="5.52" lengthAdjust="spacingAndGlyphs" stroke="#222" stroke-width="0.22">4</text>
<text x="402.13" y="665.30" font-size="9.4" fill="#222" textLength="29.59" lengthAdjust="spacingAndGlyphs" stroke="#222" stroke-width="0.22">0.6-7.3</text>
<text x="450.93" y="665.30" font-size="9.4" fill="#222" textLength="10.86" lengthAdjust="spacingAndGlyphs" stroke="#222" stroke-width="0.22">32</text>
<text x="481.56" y="665.30" font-size="9.4" fill="#222" textLength="27.68" lengthAdjust="spacingAndGlyphs" stroke="#222" stroke-width="0.22">&lt;0.001</text>
</svg></body></html>
